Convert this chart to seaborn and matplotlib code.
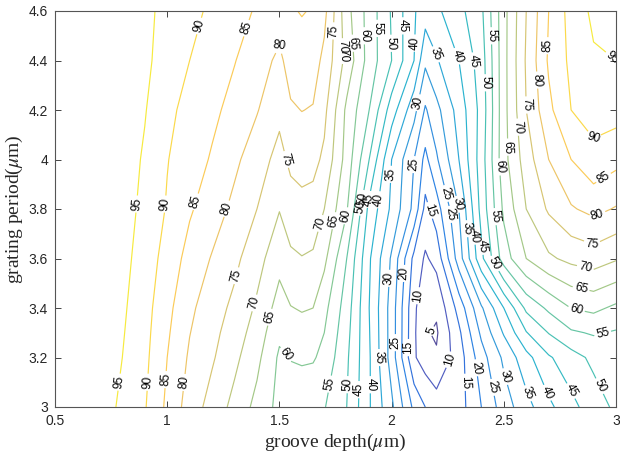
import numpy as np
import matplotlib
matplotlib.use("Agg")
import matplotlib.pyplot as plt
import seaborn as sns
from matplotlib.colors import LinearSegmentedColormap

# ---------------- data ----------------
groove_depth = [0.5, 0.6, 0.7, 0.8, 0.9, 1.0, 1.1, 1.2, 1.3, 1.4, 1.5, 1.55, 1.6, 1.65, 1.7, 1.8,
                1.9, 2.0, 2.1, 2.15, 2.2, 2.3, 2.4, 2.5, 2.6, 2.7, 2.8, 2.9, 3.0]
grating_period = [3.0, 3.2, 3.3, 3.4, 3.6, 3.8, 4.0, 4.2, 4.4, 4.6]

z_p300 = [98.5, 98.0, 97.0, 94.2, 90.4, 84.0, 77.7, 73.1, 68.5, 63.5, 58.5, 57.5, 56.5, 56.0, 55.3, 50.0,
          40.5, 31.0, 18.8, 15.0, 12.5, 12.8, 20.0, 27.5, 33.2, 38.8, 43.6, 47.5, 51.0]
z_p320 = [98.5, 98.0, 97.2, 95.0, 91.2, 85.0, 79.3, 75.6, 71.2, 66.3, 59.2, 60.2, 60.7, 60.5, 58.6, 50.8,
          40.6, 27.9, 10.6, 7.5, 5.6, 12.5, 22.9, 31.0, 38.3, 44.4, 47.9, 51.2, 53.0]
z_p330 = [98.6, 98.1, 97.35, 95.4, 91.55, 85.7, 80.15, 76.45, 72.5, 67.75, 61.0, 62.5, 63.1, 62.7, 60.0, 51.6,
          40.3, 27.9, 10.8, 5.5, 4.4, 14.0, 26.0, 35.5, 44.7, 50.2, 54.3, 55.5, 54.5]
z_p340 = [98.7, 98.2, 97.5, 95.8, 91.9, 86.4, 81.0, 77.3, 73.8, 69.2, 62.9, 64.8, 65.4, 65.0, 61.5, 52.5,
          40.0, 27.9, 11.0, 6.3, 5.8, 16.9, 29.3, 40.0, 51.1, 56.0, 60.1, 61.2, 59.0]
z_p360 = [98.8, 98.4, 97.7, 96.6, 92.7, 88.1, 83.2, 79.65, 76.2, 71.9, 66.6, 69.1, 69.8, 69.3, 66.2, 55.0,
          40.7, 29.3, 13.6, 9.3, 11.7, 27.5, 43.75, 57.5, 65.0, 69.2, 71.3, 72.5, 70.5]
z_p380 = [99.0, 98.8, 98.3, 97.3, 93.6, 89.6, 85.6, 82.3, 78.8, 75.0, 70.2, 72.8, 73.5, 73.1, 70.0, 60.5,
          43.6, 34.0, 23.6, 13.5, 17.7, 30.0, 46.7, 61.0, 70.0, 75.7, 79.5, 81.4, 79.6]
z_p400 = [99.2, 99.0, 98.5, 97.5, 94.4, 90.2, 87.4, 84.5, 81.0, 77.4, 73.3, 76.1, 76.9, 76.5, 74.0, 63.0,
          50.0, 35.0, 25.0, 18.6, 24.3, 35.0, 47.5, 63.3, 72.5, 80.0, 85.0, 88.5, 86.5]
z_p420 = [99.3, 99.2, 98.8, 97.8, 95.3, 91.2, 88.4, 86.1, 83.4, 80.3, 76.3, 79.4, 80.1, 79.7, 76.3, 63.9,
          55.0, 42.5, 31.7, 24.4, 28.5, 37.0, 46.7, 63.3, 75.0, 83.8, 90.0, 92.0, 92.0]
z_p440 = [99.3, 99.2, 98.8, 98.0, 96.0, 92.9, 90.0, 87.6, 85.2, 82.3, 78.9, 82.1, 82.7, 82.2, 78.7, 68.3,
          57.9, 50.0, 40.0, 31.0, 34.5, 40.0, 47.5, 63.3, 75.6, 85.7, 91.1, 94.4, 95.0]
z_p460 = [99.3, 99.2, 98.5, 97.5, 96.0, 93.8, 91.4, 89.1, 86.8, 84.5, 82.5, 84.5, 85.3, 84.6, 81.5, 66.7,
          58.0, 49.5, 40.5, 37.3, 39.0, 43.5, 49.0, 63.3, 75.0, 85.0, 92.0, 96.0, 97.0]

contour_levels = [5, 10, 15, 20, 25, 30, 35, 40, 45, 50, 55, 60, 65, 70, 75, 80, 85, 90, 95]

x_ticks = [0.5, 1.0, 1.5, 2.0, 2.5, 3.0]
x_tick_labels = ["0.5", "1", "1.5", "2", "2.5", "3"]
y_ticks = [3.0, 3.2, 3.4, 3.6, 3.8, 4.0, 4.2, 4.4, 4.6]
y_tick_labels = ["3", "3.2", "3.4", "3.6", "3.8", "4", "4.2", "4.4", "4.6"]

# where the contour labels sit (layout)
label_spots = [
    (0.866, 3.82), (0.79, 3.10), (2.955, 4.38),
    (1.14, 4.54), (0.99, 3.82), (0.915, 3.10), (2.875, 4.07),
    (1.355, 4.53), (1.125, 3.83), (1.005, 3.11), (2.69, 4.46), (2.955, 3.91),
    (1.50, 4.49), (1.27, 3.80), (1.066, 3.10), (1.73, 4.52), (2.63, 4.32), (2.92, 3.77),
    (1.53, 4.00), (1.31, 3.53), (1.76, 4.42), (2.59, 4.22), (2.89, 3.65),
    (1.39, 3.42), (1.69, 3.74), (1.80, 4.44), (2.55, 4.13), (2.86, 3.55),
    (1.47, 3.36), (1.76, 3.75), (1.83, 4.47), (2.51, 4.05), (2.84, 3.46),
    (1.54, 3.22), (1.81, 3.77), (1.89, 4.50), (2.48, 3.97), (2.82, 3.38),
    (1.74, 3.09), (1.85, 3.81), (1.96, 4.53), (2.45, 4.50), (2.47, 3.77), (2.94, 3.30),
    (1.81, 3.09), (1.87, 3.83), (2.015, 4.47), (2.42, 4.31), (2.46, 3.58), (2.94, 3.09),
    (1.86, 3.07), (1.89, 3.84), (2.065, 4.54), (2.39, 4.40), (2.41, 3.65), (2.81, 3.07),
    (1.91, 3.09), (1.92, 3.84), (2.115, 4.47), (2.30, 4.42), (2.36, 3.69), (2.70, 3.06),
    (1.95, 3.20), (2.00, 3.94), (2.21, 4.43), (2.33, 3.72), (2.62, 3.06),
    (1.99, 3.52), (2.115, 4.23), (2.30, 3.82), (2.495, 3.12),
    (2.02, 3.26), (2.09, 3.98), (2.28, 3.78), (2.455, 3.08),
    (2.05, 3.54), (2.23, 3.86), (2.366, 3.157),
    (2.085, 3.24), (2.19, 3.80), (2.335, 3.10),
    (2.115, 3.45), (2.26, 3.19),
    (2.19, 3.30),
]

# ---------------- style ----------------
sns.set_theme(style="ticks")
plt.rcParams["font.family"] = ["Liberation Sans", "DejaVu Sans"]
plt.rcParams["mathtext.fontset"] = "stix"

parula_anchor = [
    (0.2081, 0.1663, 0.5292), (0.1959, 0.2645, 0.7279), (0.0117, 0.3875, 0.8820),
    (0.0498, 0.4586, 0.8641), (0.0793, 0.5200, 0.8312), (0.0343, 0.5966, 0.8199),
    (0.0228, 0.6535, 0.7768), (0.0843, 0.6928, 0.7062), (0.2178, 0.7250, 0.6193),
    (0.3953, 0.7459, 0.5244), (0.5709, 0.7485, 0.4494), (0.7184, 0.7411, 0.3905),
    (0.8507, 0.7299, 0.3360), (0.9739, 0.7314, 0.2666), (0.9880, 0.8066, 0.1794),
    (0.9589, 0.8949, 0.1132), (0.9763, 0.9831, 0.0538),
]
anchor_pos = [0, 4, 8, 12, 16, 20, 24, 28, 32, 36, 40, 44, 48, 52, 56, 60, 63]
# thin anti-aliased lines in the reference look a little washed out
soft = [tuple(0.85 * v + 0.15 for v in c) for c in parula_anchor]
parula = LinearSegmentedColormap.from_list(
    "parula_soft", [(p / 63.0, c) for p, c in zip(anchor_pos, soft)])

# ---------------- plot ----------------
Z = np.array([z_p300, z_p320, z_p330, z_p340, z_p360, z_p380,
              z_p400, z_p420, z_p440, z_p460])
X, Y = np.meshgrid(groove_depth, grating_period)

fig = plt.figure(figsize=(6.2, 4.55), dpi=100)
ax = fig.add_axes([55 / 620, 48 / 455, 561 / 620, 396 / 455])

cs = ax.contour(X, Y, Z, levels=contour_levels, cmap=parula,
                vmin=Z.min(), vmax=Z.max(), linewidths=0.85)
labels = ax.clabel(cs, manual=label_spots, inline=True, inline_spacing=2,
                   fontsize=8.5, colors="black", fmt="%d")
for t in labels:
    t.set_color("black")

ax.set_xlim(0.5, 3.0)
ax.set_ylim(3.0, 4.6)
ax.set_xticks(x_ticks)
ax.set_xticklabels(x_tick_labels)
ax.set_yticks(y_ticks)
ax.set_yticklabels(y_tick_labels)
ax.tick_params(direction="in", top=True, right=True, length=4, width=0.6,
               labelsize=10, colors="#262626", pad=5)
for s in ax.spines.values():
    s.set_color("#555555")
    s.set_linewidth(0.8)
ax.grid(False)
ax.set_facecolor("white")

ax.set_xlabel("groove depth($\\mu$m)", fontsize=14,
              family=["Liberation Serif", "DejaVu Serif"], labelpad=3)
ax.set_ylabel("grating period($\\mu$m)", fontsize=14,
              family=["Liberation Serif", "DejaVu Serif"])
ax.yaxis.set_label_coords(-0.054, 0.5)

fig.savefig("out.png", dpi=100, facecolor="white")
